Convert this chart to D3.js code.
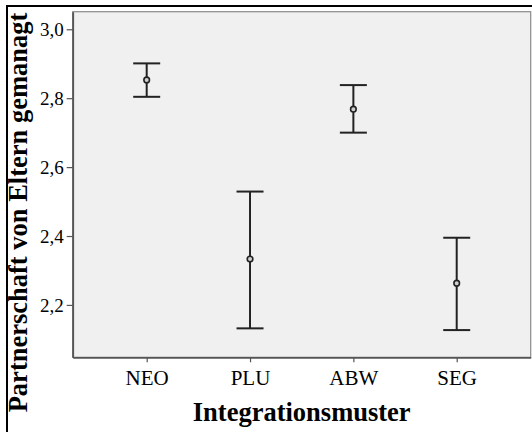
<!DOCTYPE html>
<meta charset="utf-8">
<script src="https://d3js.org/d3.v7.min.js"></script>
<style>
  body { margin: 0; background: #fff; }
  text { font-family: "Liberation Serif", "Times New Roman", serif; fill: #000; }
</style>
<body>
<div id="chart"></div>
<script>

    // data
    var categories = ["NEO", "PLU", "ABW", "SEG"];
    var means = [2.853, 2.333, 2.768, 2.263];
    var lower = [2.804, 2.132, 2.700, 2.127];
    var upper = [2.901, 2.529, 2.838, 2.395];
    var yTicks = [2.2, 2.4, 2.6, 2.8, 3.0];

    var W = 532, H = 432;
    var plot = { left: 72.7, top: 11.7, right: 530.7, bottom: 357.3 };
    var serif = "'Liberation Serif', 'Times New Roman', serif";

    var svg = d3.select("#chart").append("svg")
        .attr("width", W)
        .attr("height", H);

    // outer frame
    svg.append("rect")
        .attr("x", 7).attr("y", 6)
        .attr("width", W + 10).attr("height", H + 10)
        .attr("fill", "none")
        .attr("stroke", "#000")
        .attr("stroke-width", 2);

    var x = d3.scalePoint()
        .domain(categories)
        .range([plot.left, plot.right])
        .padding(0.716);

    var y = d3.scaleLinear()
        .domain([2.048, 3.051])
        .range([plot.bottom, plot.top]);

    // plot background
    svg.append("rect")
        .attr("x", plot.left).attr("y", plot.top)
        .attr("width", plot.right - plot.left)
        .attr("height", plot.bottom - plot.top)
        .attr("fill", "#f0f0f0")
        .attr("stroke", "#8a8a8a")
        .attr("stroke-width", 1.2);

    // y axis
    var yAxis = svg.append("g")
        .attr("transform", "translate(" + plot.left + ",0)")
        .call(d3.axisLeft(y).tickValues(yTicks)
            .tickFormat(function (d) { return d3.format(".1f")(d).replace(".", ","); })
            .tickSize(6).tickPadding(3).tickSizeOuter(0));
    yAxis.attr("font-family", serif).attr("font-size", 19);
    yAxis.select(".domain").attr("stroke", "#555").attr("stroke-width", 1.8);
    yAxis.selectAll(".tick line").attr("stroke", "#555").attr("stroke-width", 1.2);
    yAxis.selectAll("text").attr("fill", "#000");

    // x axis
    var xAxis = svg.append("g")
        .attr("transform", "translate(0," + plot.bottom + ")")
        .call(d3.axisBottom(x).tickSize(5).tickPadding(8).tickSizeOuter(0));
    xAxis.attr("font-family", serif).attr("font-size", 21);
    xAxis.select(".domain").attr("stroke", "#555").attr("stroke-width", 1.8);
    xAxis.selectAll(".tick line").attr("stroke", "#555").attr("stroke-width", 1.2);
    xAxis.selectAll("text").attr("fill", "#000");

    // axis titles
    svg.append("text")
        .attr("x", 301.7)
        .attr("y", 421)
        .attr("text-anchor", "middle")
        .style("font-size", "26.5px")
        .style("font-weight", "bold")
        .text("Integrationsmuster");

    svg.append("text")
        .attr("transform", "translate(27,212.5) rotate(-90)")
        .attr("text-anchor", "middle")
        .style("font-size", "26.5px")
        .style("font-weight", "bold")
        .text("Partnerschaft von Eltern gemanagt");

    // error bars
    var capHalf = 13.5;
    var bars = svg.append("g")
        .selectAll("g")
        .data(categories)
        .enter()
        .append("g");

    bars.append("line")
        .attr("x1", function (d) { return x(d); })
        .attr("x2", function (d) { return x(d); })
        .attr("y1", function (d, i) { return y(upper[i]); })
        .attr("y2", function (d, i) { return y(lower[i]); })
        .attr("stroke", "#222").attr("stroke-width", 2);

    bars.append("line")
        .attr("x1", function (d) { return x(d) - capHalf; })
        .attr("x2", function (d) { return x(d) + capHalf; })
        .attr("y1", function (d, i) { return y(upper[i]); })
        .attr("y2", function (d, i) { return y(upper[i]); })
        .attr("stroke", "#222").attr("stroke-width", 2);

    bars.append("line")
        .attr("x1", function (d) { return x(d) - capHalf; })
        .attr("x2", function (d) { return x(d) + capHalf; })
        .attr("y1", function (d, i) { return y(lower[i]); })
        .attr("y2", function (d, i) { return y(lower[i]); })
        .attr("stroke", "#222").attr("stroke-width", 2);

    bars.append("circle")
        .attr("cx", function (d) { return x(d); })
        .attr("cy", function (d, i) { return y(means[i]); })
        .attr("r", 2.8)
        .attr("fill", "#cfcfcf")
        .attr("stroke", "#222")
        .attr("stroke-width", 1.6);

</script>
</body>
